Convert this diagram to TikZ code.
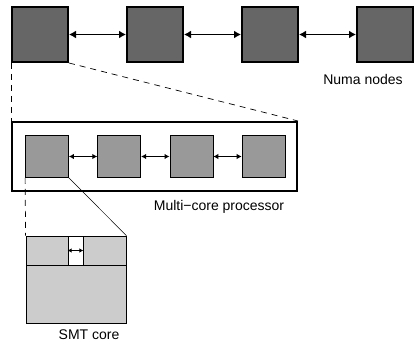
\documentclass[tikz,border=0pt]{standalone}
\usepackage{fontspec}
\setmainfont{Liberation Sans}
\usetikzlibrary{arrows.meta}
\definecolor{numagray}{HTML}{666666}
\definecolor{coregray}{HTML}{999999}
\definecolor{smtgray}{HTML}{CCCCCC}
\tikzset{
  numabox/.style={draw, line width=2pt, fill=numagray, minimum width=56pt, minimum height=55pt, inner sep=0pt},
  procbox/.style={draw, line width=2pt, fill=white, minimum width=285pt, minimum height=69pt, inner sep=0pt},
  corebox/.style={draw, line width=0.8pt, fill=coregray, minimum width=43pt, minimum height=42pt, inner sep=0pt},
  smtpart/.style={draw, line width=0.8pt, fill=smtgray, inner sep=0pt},
  bigarrow/.style={line width=1.8pt, {Latex[length=7pt,width=8pt]}-{Latex[length=7pt,width=8pt]}},
  midarrow/.style={line width=1.2pt, {Latex[length=5pt,width=5.5pt]}-{Latex[length=5pt,width=5.5pt]}},
  smallarrow/.style={line width=1pt, {Latex[length=4pt,width=4.5pt]}-{Latex[length=4pt,width=4.5pt]}},
  zoomline/.style={line width=0.7pt, dash pattern=on 6pt off 5pt},
  caption/.style={font=\fontsize{14}{16}\selectfont, inner sep=0pt}
}
\begin{document}
\begin{tikzpicture}[x=1pt, y=-1pt]
  \useasboundingbox (0,0) rectangle (417,342);

  % NUMA nodes
  \node[numabox] (n1) at (40,34.5) {};
  \node[numabox] (n2) at (155,34.5) {};
  \node[numabox] (n3) at (270,34.5) {};
  \node[numabox] (n4) at (385,34.5) {};
  \draw[bigarrow] (n1) -- (n2);
  \draw[bigarrow] (n2) -- (n3);
  \draw[bigarrow] (n3) -- (n4);
  \node[caption] (numalabel) at (363,79) {Numa nodes};

  % Multi-core processor
  \node[procbox] (proc) at (154.5,156.5) {};
  \node[corebox] (c1) at (47,156.5) {};
  \node[corebox] (c2) at (119.2,156.5) {};
  \node[corebox] (c3) at (191.4,156.5) {};
  \node[corebox] (c4) at (263.6,156.5) {};
  \draw[midarrow] (c1) -- (c2);
  \draw[midarrow] (c2) -- (c3);
  \draw[midarrow] (c3) -- (c4);
  \node[caption] (proclabel) at (219,207) {Multi−core processor};

  % zoom from the first NUMA node onto the processor
  \draw[zoomline] (n1.south west) -- (proc.north west);
  \draw[zoomline] (n1.south east) -- (proc.north east);

  % SMT core
  \node[smtpart, minimum width=100pt, minimum height=58pt] (smtbody) at (76,294) {};
  \node[smtpart, minimum width=42pt, minimum height=29pt] (smtl) at (47,250.5) {};
  \node[smtpart, minimum width=43pt, minimum height=29pt] (smtr) at (104.5,250.5) {};
  \node[smtpart, fill=white, minimum width=15pt, minimum height=29pt] (slot) at (75.5,250.5) {};
  \draw[smallarrow] (slot.west) -- (slot.east);
  \node[caption] (smtlabel) at (89,335) {SMT core};

  % zoom from the first core onto the SMT core
  \draw[zoomline] (c1.south west) -- (smtl.north west);
  \draw[line width=0.5pt] (c1.south east) -- (smtr.north east);
\end{tikzpicture}
\end{document}
